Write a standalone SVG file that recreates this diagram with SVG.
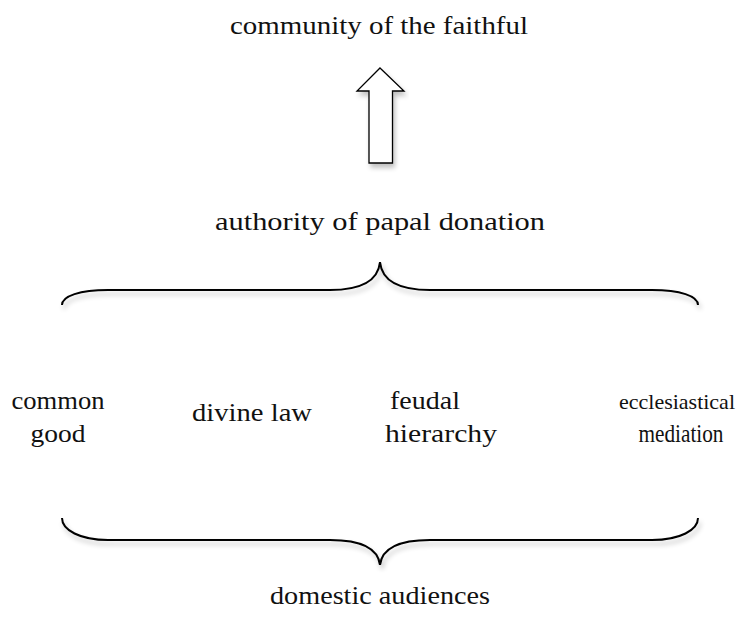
<svg xmlns="http://www.w3.org/2000/svg" width="744" height="621" viewBox="0 0 744 621">
<style>
text{font-family:"Liberation Serif",serif;font-size:26px;fill:#111;text-anchor:middle}
text.sm{font-size:22px}
.br{fill:none;stroke:#000;stroke-width:2;filter:url(#sh)}
</style>
<defs>
<filter id="sh" x="-10%" y="-50%" width="120%" height="200%">
<feGaussianBlur in="SourceAlpha" stdDeviation="2.5"/>
<feOffset dx="2" dy="4" result="b"/>
<feComponentTransfer><feFuncA type="linear" slope="0.25"/></feComponentTransfer>
<feMerge><feMergeNode/><feMergeNode in="SourceGraphic"/></feMerge>
</filter>
</defs>
<g id="top-label"><text x="379" y="34" textLength="298" lengthAdjust="spacingAndGlyphs">community of the faithful</text></g>
<g id="arrow"><path d="M380,68 L404,91 L392.5,91 L392.5,163 L369,163 L369,91 L357,91 Z" fill="#fff" stroke="#000" stroke-width="1.3" filter="url(#sh)"/></g>
<g id="mid-label"><text x="380" y="230" textLength="330" lengthAdjust="spacingAndGlyphs">authority of papal donation</text></g>
<g id="connectors">
<path class="br" d="M62,305 C62,296 80,290 108,290 L330,290 C360,290 378,282 380,262 C382,282 400,290 430,290 L652,290 C680,290 698,296 698,305"/>
<path class="br" d="M62,518 C62,530 80,540 108,540 L330,540 C360,540 378,548 380,565 C382,548 400,540 430,540 L652,540 C680,540 698,530 698,518"/>
</g>
<g id="n1"><text x="58" y="409" textLength="93" lengthAdjust="spacingAndGlyphs">common</text><text x="58" y="442" textLength="55" lengthAdjust="spacingAndGlyphs">good</text></g>
<g id="n2"><text x="252" y="421" textLength="120" lengthAdjust="spacingAndGlyphs">divine law</text></g>
<g id="n3"><text x="425" y="409" textLength="70" lengthAdjust="spacingAndGlyphs">feudal</text><text x="441" y="442" textLength="112" lengthAdjust="spacingAndGlyphs">hierarchy</text></g>
<g id="n4"><text class="sm" x="677" y="409" textLength="116" lengthAdjust="spacingAndGlyphs">ecclesiastical</text><text x="681" y="442" textLength="85" lengthAdjust="spacingAndGlyphs">mediation</text></g>
<g id="bottom-label"><text x="380" y="604" textLength="220" lengthAdjust="spacingAndGlyphs">domestic audiences</text></g>
</svg>
